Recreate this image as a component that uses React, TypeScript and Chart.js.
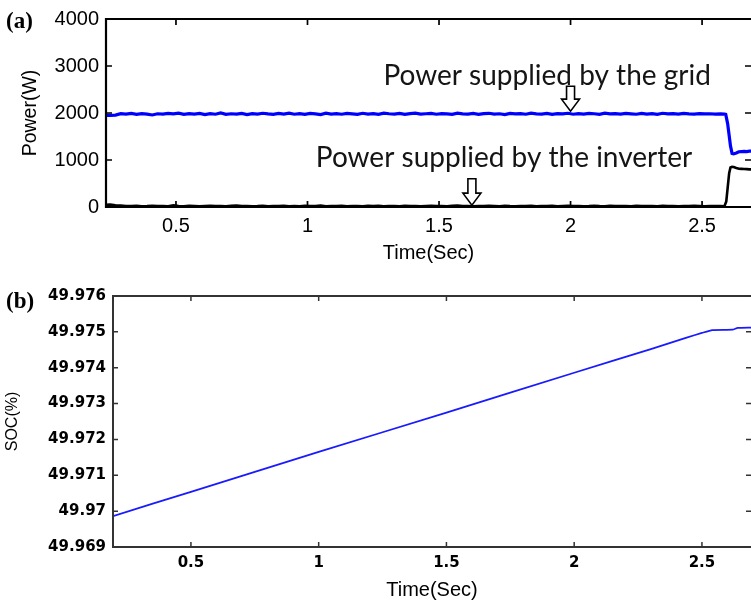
import { useEffect, useRef } from "react";
import { Chart, registerables } from "chart.js";

Chart.register(...registerables);

// ---------- (a) power flow ----------
// steady-state samples, one every 20 ms starting at 0.23 s
const STEADY_START = 0.23;
const STEADY_STEP = 0.02;

const gridSteadyW = [
  1950, 1948, 1955, 1985, 1978, 1992, 1972, 1986, 1975, 1958,
  1984, 1976, 1990, 1980, 1996, 1970, 1985, 1975, 1990, 1966,
  1986, 1974, 2000, 1972, 1984, 1978, 1992, 1968, 1988, 1976,
  1994, 1980, 1970, 1990, 1978, 1998, 1974, 1986, 1972, 1990,
  1982, 1968, 1996, 1978, 1988, 1974, 1992, 1980, 1970, 1994,
  1976, 1988, 1972, 1996, 1984, 1978, 1990, 1970, 1986, 1998,
  1976, 1984, 1992, 1974, 1988, 1980, 1970, 1996, 1982, 1976,
  1990, 1972, 1986, 1994, 1978, 1984, 1968, 1992, 1980, 1988,
  1974, 1998, 1982, 1976, 1990, 1970, 1986, 1980, 1994, 1974,
  1988, 1978, 1992, 1984, 1972, 1996, 1980, 1986, 1976, 1990,
  1982, 1974, 1992, 1978, 1986, 1970, 1994, 1980, 1988, 1976,
  1990, 1982, 1978, 1986, 1980, 1984, 1978, 1982,
];

const inverterSteadyW = [
  45, 52, 38, 30, 22, 18, 25, 15, 20, 28,
  18, 22, 15, 35, 20, 16, 24, 18, 14, 22,
  26, 18, 20, 15, 24, 30, 18, 22, 16, 20,
  28, 15, 22, 18, 25, 16, 20, 14, 24, 18,
  22, 30, 16, 20, 18, 26, 15, 22, 20, 17,
  24, 18, 28, 15, 20, 22, 16, 25, 18, 20,
  15, 22, 26, 18, 20, 16, 24, 30, 18, 22,
  15, 20, 18, 26, 22, 16, 24, 18, 15, 22,
  20, 28, 16, 22, 18, 24, 15, 20, 26, 18,
  22, 16, 20, 28, 18, 15, 24, 20, 18, 22,
  16, 26, 20, 18, 22, 15, 24, 18, 20, 16,
  22, 18, 26, 20, 15, 22, 18, 20,
];

// switching event near 2.6 s
const gridStepTime = [2.585, 2.59, 2.597, 2.603, 2.608, 2.614, 2.62, 2.63, 2.64, 2.65, 2.66, 2.67, 2.68, 2.69];
const gridStepW = [1975, 1970, 1780, 1520, 1300, 1140, 1130, 1150, 1175, 1180, 1185, 1180, 1188, 1190];

const inverterStepTime = [2.585, 2.592, 2.598, 2.603, 2.608, 2.614, 2.62, 2.63, 2.64, 2.65, 2.66, 2.67, 2.68, 2.69];
const inverterStepW = [15, 120, 450, 720, 840, 855, 850, 830, 815, 812, 808, 805, 800, 800];

const powerXTicks = [0.5, 1, 1.5, 2, 2.5];
const powerYTicks = [0, 1000, 2000, 3000, 4000];

// ---------- (b) state of charge ----------
const socTime = [0.195, 0.5, 1.0, 1.5, 2.0, 2.3, 2.44, 2.5, 2.54, 2.62, 2.64, 2.692];
const socPct = [
  49.96986, 49.97054, 49.97165, 49.97275, 49.97386, 49.97452,
  49.97484, 49.97497, 49.97505, 49.97506, 49.97511, 49.97512,
];
const socXTicks = [0.5, 1, 1.5, 2, 2.5];
const socYTicks = [49.969, 49.97, 49.971, 49.972, 49.973, 49.974, 49.975, 49.976];

const steadyTime = gridSteadyW.map((_, i) => +(STEADY_START + i * STEADY_STEP).toFixed(3));

const toPoints = (xs: number[], ys: number[]) => xs.map((x, i) => ({ x, y: ys[i] }));

const ARIAL = '"Liberation Sans", Arial, sans-serif';

// Box frame with inward ticks on all four sides
function framePlugin(color: string, width: number, tickLen: number) {
  return {
    id: "frame",
    afterDraw(chart: any) {
      const { ctx, chartArea: a, scales } = chart;
      ctx.save();
      ctx.strokeStyle = color;
      ctx.lineWidth = width;
      ctx.lineCap = "butt";
      ctx.beginPath();
      ctx.moveTo(a.left, a.top);
      ctx.lineTo(a.right + 2, a.top);
      ctx.moveTo(a.left, a.top - 1);
      ctx.lineTo(a.left, a.bottom + 1);
      ctx.moveTo(a.left - 1, a.bottom);
      ctx.lineTo(a.right + 2, a.bottom);
      ctx.stroke();
      ctx.lineWidth = Math.max(1, width - 0.5);
      ctx.beginPath();
      for (const t of scales.x.ticks) {
        const px = scales.x.getPixelForValue(t.value);
        ctx.moveTo(px, a.bottom);
        ctx.lineTo(px, a.bottom - tickLen);
        ctx.moveTo(px, a.top);
        ctx.lineTo(px, a.top + tickLen);
      }
      for (const t of scales.y.ticks) {
        const py = scales.y.getPixelForValue(t.value);
        ctx.moveTo(a.left, py);
        ctx.lineTo(a.left + tickLen, py);
        ctx.moveTo(a.right, py);
        ctx.lineTo(a.right - tickLen, py);
      }
      ctx.stroke();
      ctx.restore();
    },
  };
}

// Text callouts with hollow arrows pointing at the traces
const callouts = [
  { text: "Power supplied by the grid", tx: 1.911, ty: 2795, ax: 2.0, aTop: 2570, aTip: 2040 },
  { text: "Power supplied by the inverter", tx: 1.747, ty: 1035, ax: 1.625, aTop: 600, aTip: 40 },
];

const calloutPlugin = {
  id: "callouts",
  afterDraw(chart: any) {
    const { ctx, scales } = chart;
    ctx.save();
    ctx.font = '28px Lato, "Open Sans", sans-serif';
    ctx.fillStyle = "#151515";
    ctx.textAlign = "center";
    ctx.textBaseline = "middle";
    for (const c of callouts) {
      ctx.fillText(c.text, scales.x.getPixelForValue(c.tx), scales.y.getPixelForValue(c.ty));
      const x = scales.x.getPixelForValue(c.ax);
      const yTop = scales.y.getPixelForValue(c.aTop);
      const yTip = scales.y.getPixelForValue(c.aTip);
      const shaft = 4;
      const head = 9;
      const headLen = 12;
      ctx.beginPath();
      ctx.moveTo(x - shaft, yTop);
      ctx.lineTo(x + shaft, yTop);
      ctx.lineTo(x + shaft, yTip - headLen);
      ctx.lineTo(x + head, yTip - headLen);
      ctx.lineTo(x, yTip);
      ctx.lineTo(x - head, yTip - headLen);
      ctx.lineTo(x - shaft, yTip - headLen);
      ctx.closePath();
      ctx.fillStyle = "#ffffff";
      ctx.fill();
      ctx.strokeStyle = "#000000";
      ctx.lineWidth = 1.6;
      ctx.stroke();
      ctx.fillStyle = "#151515";
    }
    ctx.restore();
  },
};

export default function App() {
  const powerRef = useRef<HTMLCanvasElement>(null);
  const socRef = useRef<HTMLCanvasElement>(null);

  useEffect(() => {
    const powerChart = new Chart(powerRef.current as HTMLCanvasElement, {
      type: "line",
      data: {
        datasets: [
          {
            label: "Grid",
            data: [...toPoints(steadyTime, gridSteadyW), ...toPoints(gridStepTime, gridStepW)],
            borderColor: "#0000ff",
            borderWidth: 3.2,
            pointRadius: 0,
            tension: 0,
          },
          {
            label: "Inverter",
            data: [...toPoints(steadyTime, inverterSteadyW), ...toPoints(inverterStepTime, inverterStepW)],
            borderColor: "#000000",
            borderWidth: 2.6,
            pointRadius: 0,
            tension: 0,
          },
        ],
      },
      options: {
        animation: false,
        responsive: false,
        devicePixelRatio: 1,
        layout: { padding: { top: 15, left: 0, right: 0, bottom: 0 } },
        plugins: { legend: { display: false }, tooltip: { enabled: false } },
        scales: {
          x: {
            type: "linear",
            min: 0.234,
            max: 2.686,
            afterFit: (s: any) => { s.height = 73; },
            afterBuildTicks: (s: any) => { s.ticks = powerXTicks.map((value) => ({ value })); },
            grid: { display: false, drawTicks: false },
            border: { display: false },
            ticks: { color: "#000", font: { family: ARIAL, size: 20 }, padding: 7, maxRotation: 0, autoSkip: false, callback: (v: any) => String(v) },
            title: { display: true, text: "Time(Sec)", color: "#000", font: { family: ARIAL, size: 20 }, padding: { top: 0, bottom: 15 } },
          },
          y: {
            type: "linear",
            min: 0,
            max: 4000,
            afterFit: (s: any) => { s.width = 106; },
            afterBuildTicks: (s: any) => { s.ticks = powerYTicks.map((value) => ({ value })); },
            grid: { display: false, drawTicks: false },
            border: { display: false },
            ticks: { color: "#000", font: { family: ARIAL, size: 20 }, padding: 7, callback: (v: any) => String(v) },
            title: { display: true, text: "Power(W)", color: "#000", font: { family: ARIAL, size: 19.5 }, padding: { top: 19, bottom: 0 } },
          },
        },
      } as any,
      plugins: [framePlugin("#000000", 2.2, 6), calloutPlugin],
    });

    const socChart = new Chart(socRef.current as HTMLCanvasElement, {
      type: "line",
      data: {
        datasets: [
          {
            label: "SOC",
            data: toPoints(socTime, socPct),
            borderColor: "#1a1aff",
            borderWidth: 1.8,
            pointRadius: 0,
            tension: 0.15,
          },
        ],
      },
      options: {
        animation: false,
        responsive: false,
        devicePixelRatio: 1,
        layout: { padding: { top: 14, left: 0, right: 0, bottom: 0 } },
        plugins: { legend: { display: false }, tooltip: { enabled: false } },
        scales: {
          x: {
            type: "linear",
            min: 0.195,
            max: 2.692,
            afterFit: (s: any) => { s.height = 56; },
            afterBuildTicks: (s: any) => { s.ticks = socXTicks.map((value) => ({ value })); },
            grid: { display: false, drawTicks: false },
            border: { display: false },
            ticks: { color: "#000", font: { family: '"DejaVu Sans", sans-serif', size: 15, weight: "bold" }, padding: 7, maxRotation: 0, autoSkip: false, callback: (v: any) => String(v) },
            title: { display: true, text: "Time(Sec)", color: "#000", font: { family: ARIAL, size: 20 }, padding: { top: 0, bottom: 1 } },
          },
          y: {
            type: "linear",
            min: 49.969,
            max: 49.976,
            afterFit: (s: any) => { s.width = 113; },
            afterBuildTicks: (s: any) => { s.ticks = socYTicks.map((value) => ({ value })); },
            grid: { display: false, drawTicks: false },
            border: { display: false },
            ticks: { color: "#000", font: { family: '"DejaVu Sans", sans-serif', size: 15, weight: "bold" }, padding: 7, callback: (v: any) => String(v) },
            title: { display: true, text: "SOC(%)", color: "#000", font: { family: ARIAL, size: 16 }, padding: { top: 3, bottom: 0 } },
          },
        },
      } as any,
      plugins: [framePlugin("#333333", 2, 5)],
    });

    return () => {
      powerChart.destroy();
      socChart.destroy();
    };
  }, []);

  const panelLabel = {
    position: "absolute" as const,
    left: 6,
    font: 'bold 23px "Liberation Serif", "Times New Roman", serif',
    lineHeight: "26px",
    color: "#000",
  };

  return (
    <div style={{ position: "absolute", left: 0, top: 0, width: 751, height: 603, background: "#fff", overflow: "hidden" }}>
      <canvas ref={powerRef} width={751} height={280} style={{ position: "absolute", left: 0, top: 0 }} />
      <canvas ref={socRef} width={751} height={323} style={{ position: "absolute", left: 0, top: 280 }} />
      <div style={{ ...panelLabel, top: 8 }}>(a)</div>
      <div style={{ ...panelLabel, top: 288 }}>(b)</div>
    </div>
  );
}
